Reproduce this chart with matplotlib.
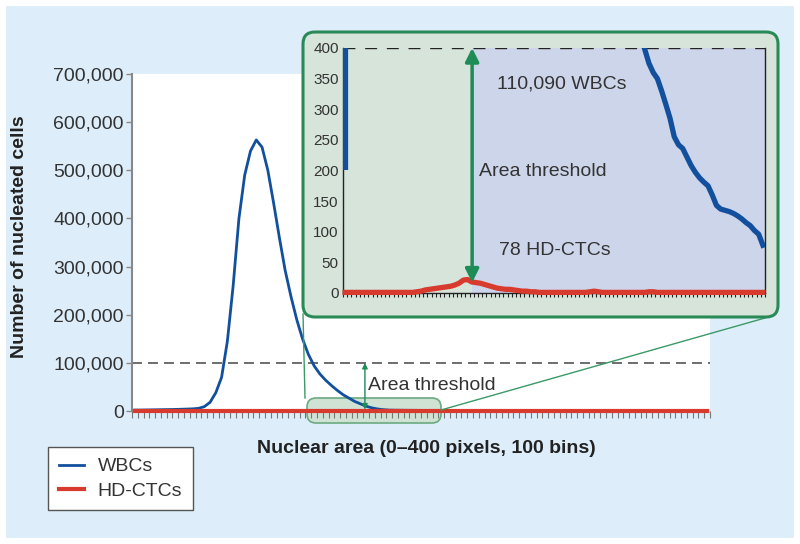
import matplotlib.pyplot as plt
import numpy as np
from matplotlib.lines import Line2D
from matplotlib.patches import FancyBboxPatch, Rectangle

plt.rcParams["font.family"] = ["Liberation Sans", "DejaVu Sans"]

# conteos por bin (100 bins de area nuclear)
wbc_counts = [
    2000, 2000, 2200, 2400, 2600, 2800, 3000, 3300, 3600, 4000,
    4500, 5500, 9000, 18000, 38000, 70000, 145000, 260000, 400000, 490000,
    540000, 563000, 548000, 500000, 432000, 360000, 292000, 238000, 190000, 150000,
    118000, 94000, 77000, 64000, 53000, 43000, 34000, 27000, 20000, 15000,
    10000, 6500, 4200, 2700, 1900, 1700, 1600, 1500, 1400, 1300,
    1250, 1200, 1100, 1050, 1000, 950, 900, 860, 820, 780,
    740, 700, 660, 630, 600, 570, 540, 510, 480, 450,
    420, 398, 375, 360, 350, 330, 308, 285, 255, 242,
    236, 222, 208, 197, 188, 181, 175, 160, 143, 137,
    135, 133, 130, 126, 121, 115, 110, 102, 96, 78,
]
ctc_counts = [
    1, 1, 1, 1, 1, 1, 1, 1, 1, 1,
    1, 1, 1, 1, 1, 1, 1, 2, 3, 5,
    6, 7, 8, 9, 10, 11, 13, 16, 21, 22,
    18, 17, 16, 14, 12, 10, 8, 7, 6, 6,
    5, 4, 3, 3, 2, 2, 1, 1, 1, 1,
    1, 1, 1, 1, 1, 1, 1, 1, 2, 3,
    2, 1, 1, 1, 1, 1, 1, 1, 1, 1,
    1, 1, 2, 2, 1, 1, 1, 1, 1, 1,
    1, 1, 1, 1, 1, 1, 1, 1, 1, 1,
    1, 1, 1, 1, 1, 1, 1, 1, 1, 1,
]
series_names = ["WBCs", "HD-CTCs"]

y_ticks = [0, 100000, 200000, 300000, 400000, 500000, 600000, 700000]
y_tick_labels = ["0", "100,000", "200,000", "300,000", "400,000",
                 "500,000", "600,000", "700,000"]
inset_y_ticks = [0, 50, 100, 150, 200, 250, 300, 350, 400]
threshold_count = 100000
inset_top = 400
offscale_bar = [200, 400]  # barra azul fuera de escala en el inset

# colores
azul = "#12509e"
rojo = "#d93a2e"
verde = "#1e8c56"
gris_texto = "#333333"

W, H = 800, 544
fig = plt.figure(figsize=(W / 100, H / 100), dpi=100)
trans_in = fig.dpi_scale_trans


def px(x, y):
    # pixel de la imagen (origen arriba) -> pulgadas de la figura
    return x / 100, (H - y) / 100


# fondo celeste
fig.add_artist(Rectangle(px(6, 538), 7.88, 5.32, transform=trans_in,
                         facecolor="#ddeefa", edgecolor="none", zorder=-10))

# eje principal
ax = fig.add_axes([132 / W, (H - 411) / H, 578 / W, 337 / H])
ax.set_facecolor("white")
bins = np.arange(len(wbc_counts)) + 0.5

ax.plot(bins, wbc_counts, color=azul, lw=2, zorder=3, clip_on=False,
        label=series_names[0])
ax.plot(bins, ctc_counts, color=rojo, lw=3, zorder=4, clip_on=False,
        label=series_names[1])
ax.axhline(threshold_count, color="#555555", lw=1.2, ls=(0, (6, 3.6)), zorder=2)

ax.set_xlim(0, 100)
ax.set_ylim(0, 700000)
ax.set_yticks(y_ticks)
ax.set_yticklabels(y_tick_labels)
ax.set_xticks(np.arange(0, 101))
for lado in ["top", "right", "bottom"]:
    ax.spines[lado].set_visible(False)
ax.spines["left"].set_color("#888888")
ax.spines["left"].set_linewidth(1.5)
ax.tick_params(axis="y", length=4, width=1, color="#888888", labelsize=14,
               labelcolor=gris_texto, pad=2)
ax.tick_params(axis="x", length=5, width=0.8, color="#777777", labelbottom=False)

ax.set_ylabel("Number of nucleated cells", fontsize=14, fontweight="bold",
              color="#222222")
ax.yaxis.set_label_coords(-0.18, 0.516)
ax.set_xlabel("Nuclear area (0\u2013400 pixels, 100 bins)", fontsize=14,
              fontweight="bold", color="#222222")
ax.xaxis.set_label_coords(0.509, -0.11)
ax.xaxis.label.set_va("center")

# flecha del umbral en el grafico principal
ax.annotate("", xy=(40.3, threshold_count), xytext=(40.3, 3000),
            arrowprops=dict(arrowstyle="<|-|>", color=verde, lw=1,
                            mutation_scale=8, shrinkA=0, shrinkB=0), zorder=5)
ax.text(40.8, 52000, "Area threshold", fontsize=14, color=gris_texto,
        va="center")

# recuadro verde de la zona ampliada
zona = FancyBboxPatch(px(307, 423), 1.34, 0.25,
                      boxstyle="round,pad=0,rounding_size=0.09",
                      transform=trans_in, facecolor="#d0e2d4",
                      edgecolor="#6aaa80", lw=1.2, zorder=1.2, clip_on=False)
ax.add_patch(zona)

# lineas que conectan con el inset
for (x0, y0), (x1, y1) in [((305, 398), (303, 314)), ((441, 410), (765, 318))]:
    a, b = px(x0, y0)
    c, d = px(x1, y1)
    fig.add_artist(Line2D([a, c], [b, d], transform=trans_in,
                          color="#3a9a66", lw=1, zorder=1))

# caja del inset
fig.add_artist(FancyBboxPatch(px(303, 317), 4.75, 2.85,
                              boxstyle="round,pad=0,rounding_size=0.12",
                              transform=trans_in, facecolor="#d6e4da",
                              edgecolor="#2a8a57", lw=2.2, zorder=2))

ax2 = fig.add_axes([343 / W, (H - 293) / H, 422 / W, 245 / H], facecolor="none")
ax2.set_zorder(3)
ax2.axvspan(30.6, 100, color="#cdd5ea", zorder=0, lw=0)
ax2.axhline(inset_top, color="#222222", lw=1, ls=(0, (8.6, 7)), zorder=1)
ax2.plot(bins, wbc_counts, color=azul, lw=3.8, zorder=3)
ax2.plot(bins, ctc_counts, color=rojo, lw=3.8, zorder=4, clip_on=False)
ax2.plot([0.5, 0.5], offscale_bar, color=azul, lw=4.5,
         solid_capstyle="butt", zorder=3)

ax2.annotate("", xy=(30.6, inset_top), xytext=(30.6, 17),
             arrowprops=dict(arrowstyle="<|-|>", color=verde, lw=2.5,
                             mutation_scale=20, shrinkA=0, shrinkB=0),
             zorder=5)
ax2.text(36.5, 341, "110,090 WBCs", fontsize=14, color=gris_texto, va="center")
ax2.text(32.3, 198, "Area threshold", fontsize=14, color=gris_texto, va="center")
ax2.text(37, 70, "78 HD-CTCs", fontsize=14, color=gris_texto, va="center")

ax2.set_xlim(0, 100)
ax2.set_ylim(0, inset_top)
ax2.set_yticks(inset_y_ticks)
ax2.set_xticks(np.arange(0, 101))
ax2.spines["top"].set_visible(False)
for lado in ["left", "right", "bottom"]:
    ax2.spines[lado].set_color("#222222")
    ax2.spines[lado].set_linewidth(1)
ax2.tick_params(axis="y", length=0, labelsize=11, labelcolor=gris_texto, pad=3)
ax2.tick_params(axis="x", length=3, width=0.8, color="#222222",
                labelbottom=False)

# leyenda
leyenda = ax.legend(loc="upper left", bbox_to_anchor=px(48, 447),
                    bbox_transform=trans_in, frameon=True, fancybox=False,
                    edgecolor="#555555", framealpha=1, fontsize=14,
                    handlelength=1.3, borderpad=0.55, labelspacing=0.35,
                    borderaxespad=0, handletextpad=0.7)
leyenda.get_frame().set_linewidth(1)
for t in leyenda.get_texts():
    t.set_color(gris_texto)

fig.savefig("out.png", dpi=100)
